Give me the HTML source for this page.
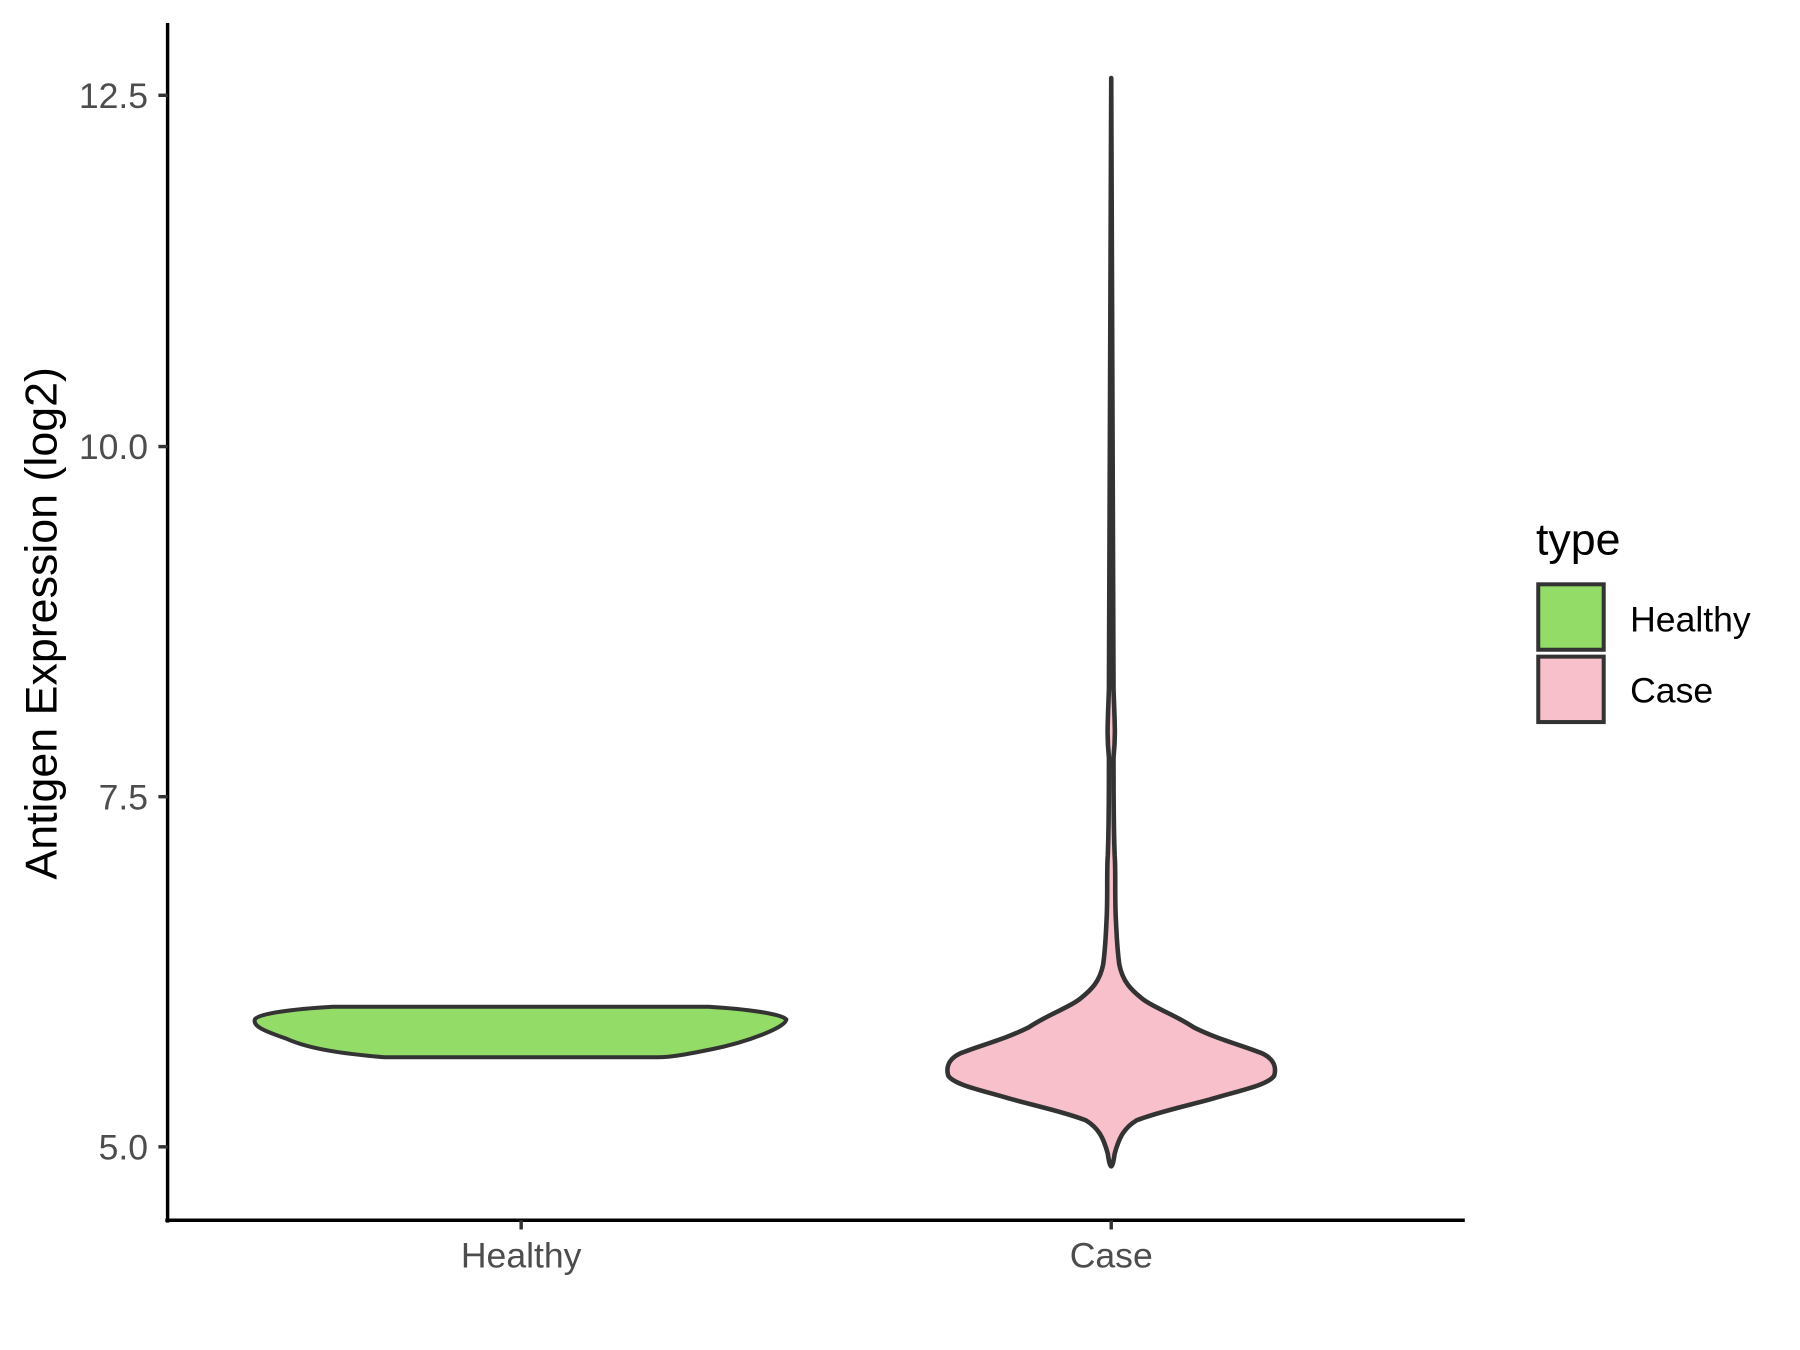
<!DOCTYPE html>
<html><head><style>html,body{margin:0;padding:0;background:#fff}svg{display:block}</style></head>
<body>
<svg width="1800" height="1350" viewBox="0 0 1568 1176" xmlns="http://www.w3.org/2000/svg" font-family="Liberation Sans, Arial, sans-serif">
<rect width="1568" height="1176" fill="#fff"/>
<path d="M290,877 L617,877 C650,879 680,883 685,888 C685,895 650,908 620,914 C600,918 585,921 573,921 L335,921 C300,918 270,914 250,905 C230,898 220,894 222,888 C225,883 255,879 290,877 Z" fill="#93dc68" stroke="#333" stroke-width="3.5"/>
<path d="M968,68 C969,200 969,400 970,600 C971,630 972,640 970,660 C970,700 970,720 971,745 C972,760 971,780 972,800 C973,820 973,825 975,840 C978,855 985,862 995,870 C1005,878 1020,882 1040,895 C1060,905 1080,910 1098,917 C1110,922 1112,930 1110,937 C1105,945 1080,950 1060,956 C1040,962 1010,968 990,976 C980,982 975,990 971,1005 C970,1012 969,1016 968,1016 C967,1016 966,1012 965,1005 C961,990 956,982 946,976 C926,968 896,962 876,956 C856,950 831,945 826,937 C824,930 826,922 838,917 C856,910 876,905 896,895 C916,882 931,878 941,870 C951,862 958,855 961,840 C963,825 963,820 964,800 C965,780 964,760 965,745 C966,720 966,700 966,660 C964,640 965,630 966,600 C967,400 967,200 968,68 Z" fill="#f8c0cb" stroke="#333" stroke-width="4" stroke-linejoin="round"/>
<line x1="146" y1="20" x2="146" y2="1065" stroke="#000" stroke-width="3"/>
<line x1="144" y1="1063" x2="1276" y2="1063" stroke="#000" stroke-width="3"/>
<g stroke="#333" stroke-width="3">
<line x1="138" y1="83" x2="146" y2="83"/><line x1="138" y1="389" x2="146" y2="389"/>
<line x1="138" y1="694" x2="146" y2="694"/><line x1="138" y1="999" x2="146" y2="999"/>
<line x1="454" y1="1063" x2="454" y2="1071"/><line x1="968" y1="1063" x2="968" y2="1071"/>
</g>
<g fill="#4d4d4d" font-size="31" text-anchor="end">
<text x="129" y="94">12.5</text><text x="129" y="400">10.0</text>
<text x="129" y="705">7.5</text><text x="129" y="1010">5.0</text>
</g>
<g fill="#4d4d4d" font-size="31" text-anchor="middle">
<text x="454" y="1104">Healthy</text><text x="968" y="1104">Case</text>
</g>
<text transform="translate(49,543) rotate(-90)" font-size="39" text-anchor="middle" fill="#000">Antigen Expression (log2)</text>
<text x="1338" y="483" font-size="39" fill="#000">type</text>
<rect x="1340" y="509" width="57" height="57" fill="#93dc68" stroke="#333" stroke-width="3.5"/>
<rect x="1340" y="572" width="57" height="57" fill="#f8c0cb" stroke="#333" stroke-width="3.5"/>
<text x="1420" y="550" font-size="31" fill="#000">Healthy</text>
<text x="1420" y="612" font-size="31" fill="#000">Case</text>
</svg>
</body></html>
